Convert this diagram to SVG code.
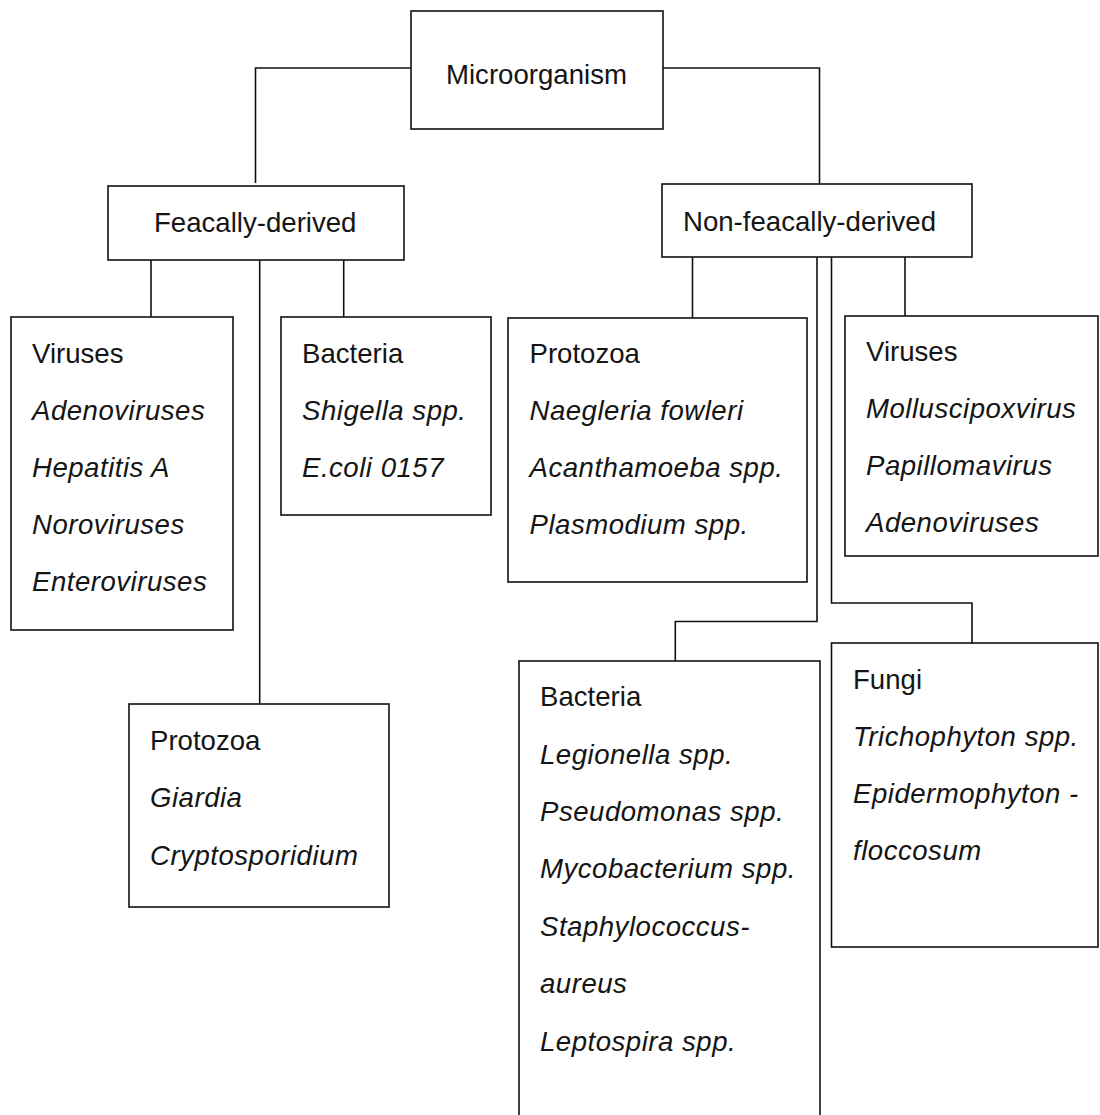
<svg xmlns="http://www.w3.org/2000/svg" width="1100" height="1115" viewBox="0 0 1100 1115">
<style>
.box{fill:#fff;stroke:#111;stroke-width:1.6}
.ln{fill:none;stroke:#111;stroke-width:1.6}
text{font-family:"Liberation Sans",Arial,sans-serif;font-size:27.6px;fill:#151515}
.it{font-style:italic;letter-spacing:0.5px}
</style>
<rect width="1100" height="1115" fill="#fff"/>
<g id="connectors">
<polyline class="ln" points="411,68 255.5,68 255.5,183"/>
<polyline class="ln" points="663,68 819.5,68 819.5,184"/>
<line class="ln" x1="151" y1="260" x2="151" y2="317"/>
<line class="ln" x1="259.7" y1="260" x2="259.7" y2="704"/>
<line class="ln" x1="343.7" y1="260" x2="343.7" y2="317"/>
<line class="ln" x1="692.5" y1="257" x2="692.5" y2="318"/>
<polyline class="ln" points="817,257 817,621.5 675.3,621.5 675.3,661"/>
<polyline class="ln" points="831.5,257 831.5,603 972,603 972,643"/>
<line class="ln" x1="905" y1="257" x2="905" y2="316"/>
</g>
<g id="microorganism">
<rect class="box" x="411" y="11" width="252" height="118"/>
<text x="446" y="84">Microorganism</text>
</g>
<g id="feacally-derived">
<rect class="box" x="108" y="186" width="296" height="74"/>
<text x="154" y="232">Feacally-derived</text>
</g>
<g id="non-feacally-derived">
<rect class="box" x="662" y="184" width="310" height="73"/>
<text x="683" y="231">Non-feacally-derived</text>
</g>
<g id="f-viruses">
<rect class="box" x="11" y="317" width="222" height="313"/>
<text x="32" y="363">Viruses</text>
<text class="it" x="32" y="420">Adenoviruses</text>
<text class="it" x="32" y="477">Hepatitis A</text>
<text class="it" x="32" y="534">Noroviruses</text>
<text class="it" x="32" y="591">Enteroviruses</text>
</g>
<g id="f-bacteria">
<rect class="box" x="281" y="317" width="210" height="198"/>
<text x="302" y="363">Bacteria</text>
<text class="it" x="302" y="420">Shigella spp.</text>
<text class="it" x="302" y="477">E.coli 0157</text>
</g>
<g id="f-protozoa">
<rect class="box" x="129" y="704" width="260" height="203"/>
<text x="150" y="750">Protozoa</text>
<text class="it" x="150" y="807">Giardia</text>
<text class="it" x="150" y="865">Cryptosporidium</text>
</g>
<g id="n-protozoa">
<rect class="box" x="508" y="318" width="299" height="264"/>
<text x="529.5" y="363">Protozoa</text>
<text class="it" x="529.5" y="420">Naegleria fowleri</text>
<text class="it" x="529.5" y="477">Acanthamoeba spp.</text>
<text class="it" x="529.5" y="534">Plasmodium spp.</text>
</g>
<g id="n-viruses">
<rect class="box" x="845" y="316" width="253" height="240"/>
<text x="866" y="361">Viruses</text>
<text class="it" x="866" y="418">Molluscipoxvirus</text>
<text class="it" x="866" y="475">Papillomavirus</text>
<text class="it" x="866" y="532">Adenoviruses</text>
</g>
<g id="n-bacteria">
<rect class="box" x="519" y="661" width="301" height="480"/>
<text x="540" y="706">Bacteria</text>
<text class="it" x="540" y="764">Legionella spp.</text>
<text class="it" x="540" y="821">Pseudomonas spp.</text>
<text class="it" x="540" y="878">Mycobacterium spp.</text>
<text class="it" x="540" y="936">Staphylococcus-</text>
<text class="it" x="540" y="993">aureus</text>
<text class="it" x="540" y="1051">Leptospira spp.</text>
</g>
<g id="n-fungi">
<rect class="box" x="831.5" y="643" width="266.5" height="304"/>
<text x="853" y="689">Fungi</text>
<text class="it" x="853" y="746">Trichophyton spp.</text>
<text class="it" x="853" y="803">Epidermophyton -</text>
<text class="it" x="853" y="860">floccosum</text>
</g>
</svg>
